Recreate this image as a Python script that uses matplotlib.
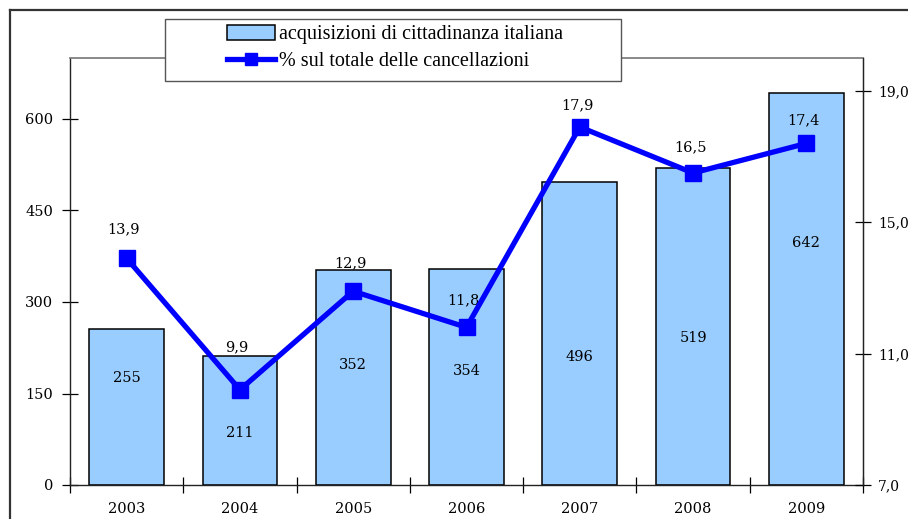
import matplotlib
matplotlib.use("Agg")
import matplotlib.pyplot as plt
from matplotlib.patches import Rectangle
from matplotlib.lines import Line2D
import numpy as np

years = ["2003", "2004", "2005", "2006", "2007", "2008", "2009"]
acquisizioni = [255, 211, 352, 354, 496, 519, 642]
percentuale = [13.9, 9.9, 12.9, 11.8, 17.9, 16.5, 17.4]
left_ticks = [0, 150, 300, 450, 600]
right_ticks = [7.0, 11.0, 15.0, 19.0]

# label placement (data units for bar labels, pixel offsets for % labels)
bar_label_y = [176, 86, 197, 187, 210, 241, 396]
pct_label_dy = [29, 42, 28, 27, 22, 26, 23]

plt.rcParams['font.family'] = ['DejaVu Serif']
num_font = 10.5

W, H = 908, 519
fig = plt.figure(figsize=(W / 100, H / 100), dpi=100)
ax = fig.add_axes([70 / W, 1 - 485 / H, (863 - 70) / W, (485 - 58) / H])

x = np.arange(len(years))
ax.bar(x, acquisizioni, width=0.66, color="#99CCFF", edgecolor="black",
       linewidth=1.1, zorder=2)
ax.set_xlim(-0.5, len(years) - 0.5)
ax.set_ylim(0, 700)
ax.set_yticks(left_ticks)
ax.set_yticklabels([str(v) for v in left_ticks], fontsize=num_font)
ax.set_xticks(np.arange(-0.5, len(years), 1.0))
ax.set_xticklabels([])
ax.set_xticks(x, minor=True)
ax.set_xticklabels(years, minor=True, fontsize=num_font)
ax.tick_params(axis="x", which="major", direction="inout", length=12, width=0.9)
ax.tick_params(axis="x", which="minor", length=0, pad=12)
ax.tick_params(axis="y", direction="inout", length=12, width=0.9, pad=6)
ax.spines["top"].set_color("#808080")
ax.spines["top"].set_linewidth(1.3)
for s in ("left", "bottom", "right"):
    ax.spines[s].set_color("#222222")
    ax.spines[s].set_linewidth(1.0)

for xi, v, ly in zip(x, acquisizioni, bar_label_y):
    ax.text(xi, ly, str(v), ha="center", va="center", fontsize=num_font, zorder=5)

ax2 = ax.twinx()
ax2.set_ylim(7.0, 20.0)
ax2.plot(x, percentuale, color="#0000FF", linewidth=3.8, marker="s",
         markersize=12, markeredgecolor="#0000FF", zorder=4)
ax2.set_yticks(right_ticks)
ax2.set_yticklabels([f"{v:.1f}".replace(".", ",") for v in right_ticks], fontsize=10)
ax2.tick_params(axis="y", direction="inout", length=12, width=0.9, pad=5)
ax2.spines["top"].set_visible(False)
ax2.spines["left"].set_visible(False)
ax2.spines["bottom"].set_visible(False)
ax2.spines["right"].set_color("#222222")
for xi, v, dy in zip(x, percentuale, pct_label_dy):
    ax2.annotate(f"{v:.1f}".replace(".", ","), (xi, v), xytext=(-2, dy * 0.72),
                 textcoords="offset points", ha="center", va="center", fontsize=num_font)

# outer border
fig.add_artist(Line2D([10 / W, 10 / W], [0, 1 - 10 / H], transform=fig.transFigure,
                      color="#333333", linewidth=1.6))
fig.add_artist(Line2D([10 / W, 1], [1 - 10 / H, 1 - 10 / H], transform=fig.transFigure,
                      color="#333333", linewidth=1.6))

# legend box
fig.add_artist(Rectangle((165 / W, 1 - 81 / H), (621 - 165) / W, (81 - 19) / H,
                         transform=fig.transFigure, facecolor="white",
                         edgecolor="#555555", linewidth=1.0, zorder=10))
h1 = Rectangle((0, 0), 1, 1, facecolor="#99CCFF", edgecolor="black", linewidth=1.1)
h2 = Line2D([], [], color="#0000FF", linewidth=3.8, marker="s", markersize=8)
leg = fig.legend([h1, h2], ["acquisizioni di cittadinanza italiana",
                            "% sul totale delle cancellazioni"],
                 loc="center", bbox_to_anchor=(395 / W, 1 - 48 / H),
                 frameon=False, handlelength=2.4, handleheight=0.8,
                 handletextpad=0.2, labelspacing=0.35,
                 prop={"family": "Liberation Serif", "size": 14.5})
leg.set_zorder(11)

fig.savefig("out.png", dpi=100)
